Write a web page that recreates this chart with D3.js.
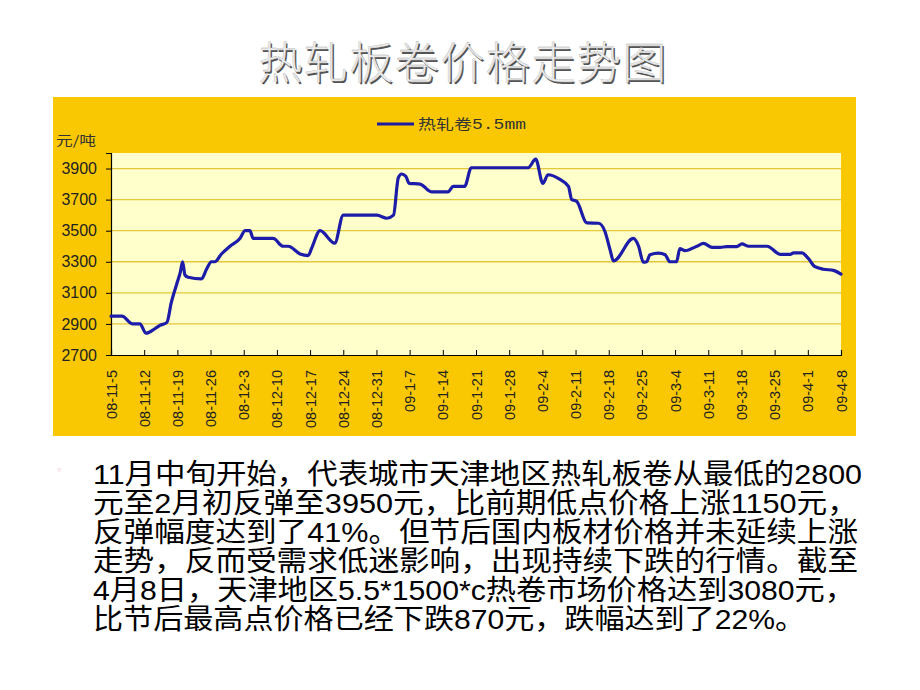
<!DOCTYPE html>
<html>
<head>
<meta charset="utf-8">
<script src="https://cdn.jsdelivr.net/npm/d3@7"></script>
<style>
  html, body { margin: 0; padding: 0; background: #ffffff; }
  svg { display: block; }
</style>
</head>
<body>
<svg id="chart" width="920" height="690"></svg>
<script>
// ---- data ----
const titleText = "热轧板卷价格走势图";
const seriesName = "热轧卷5.5mm";
const yUnit = "元/吨";
// day offsets from 08-11-5
const days = [0,2.3,4.6,6.1,7.4,9.3,10.3,11.8,12.7,13.9,14.6,15.1,15.6,16.3,19.1,20.2,21.2,21.9,23.3,25.1,27.2,28.3,29.3,30.0,34.2,36.3,37.4,39.9,41.6,42.3,44.1,47.2,49.0,56.1,58.2,59.6,60.6,61.3,62.2,62.9,65.2,67.6,71.1,72.2,74.6,76.0,88.0,89.6,91.1,92.2,94.7,96.5,97.2,98.2,100.4,102.9,104.2,105.3,106.0,110.2,111.3,112.3,113.0,113.7,115.5,116.9,117.9,119.3,120.0,121.1,123.6,125.0,126.8,128.5,129.9,132.0,133.1,134.5,138.4,141.2,143.3,144.0,145.7,147.1,148.5,150.3,152.4,154];
const prices = [2950,2950,2900,2900,2840,2870,2890,2910,3035,3160,3230,3300,3215,3200,3190,3255,3300,3300,3350,3400,3450,3500,3500,3450,3450,3400,3400,3350,3340,3385,3500,3420,3600,3600,3580,3600,3840,3865,3850,3805,3800,3750,3750,3785,3785,3905,3905,3960,3805,3860,3830,3785,3700,3690,3550,3548,3495,3375,3305,3450,3400,3297,3300,3345,3355,3345,3300,3300,3385,3372,3400,3418,3393,3393,3397,3397,3415,3400,3400,3348,3348,3357,3357,3322,3268,3252,3245,3220];
const xTickLabels = ["08-11-5","08-11-12","08-11-19","08-11-26","08-12-3","08-12-10","08-12-17","08-12-24","08-12-31","09-1-7","09-1-14","09-1-21","09-1-28","09-2-4","09-2-11","09-2-18","09-2-25","09-3-4","09-3-11","09-3-18","09-3-25","09-4-1","09-4-8"];
const yTicks = [2700,2900,3100,3300,3500,3700,3900];
const paragraph = [
  "11月中旬开始，代表城市天津地区热轧板卷从最低的2800",
  "元至2月初反弹至3950元，比前期低点价格上涨1150元，",
  "反弹幅度达到了41%。但节后国内板材价格并未延续上涨",
  "走势，反而受需求低迷影响，出现持续下跌的行情。截至",
  "4月8日，天津地区5.5*1500*c热卷市场价格达到3080元，",
  "比节后最高点价格已经下跌870元，跌幅达到了22%。"
];

// ---- drawing ----
const svg = d3.select("#chart");
const CJK = "'Liberation Sans', Arial, 'Noto Sans CJK SC', sans-serif";

// title with emboss effect
const tg = svg.append("g").attr("transform", "translate(463,79)");
tg.append("text").attr("x", 1.6).attr("y", 1.6)
  .attr("text-anchor", "middle").attr("font-family", "'Noto Sans CJK SC', sans-serif")
  .attr("font-weight", 300)
  .attr("font-size", 44).attr("letter-spacing", 1.5).attr("fill", "#555")
  .text(titleText);
tg.append("text").attr("x", 0).attr("y", 0)
  .attr("text-anchor", "middle").attr("font-family", "'Noto Sans CJK SC', sans-serif")
  .attr("font-weight", 300)
  .attr("font-size", 44).attr("letter-spacing", 1.5).attr("fill", "#ececec")
  .attr("stroke", "#a8a8a8").attr("stroke-width", 0.3)
  .text(titleText);

// chart box
svg.append("rect").attr("x", 53).attr("y", 97).attr("width", 803).attr("height", 339)
  .attr("fill", "#f9c803");

const plot = {left: 111, right: 841, top: 153, bottom: 355};
const x = d3.scaleLinear().domain([0, 154]).range([plot.left, plot.right]);
const y = d3.scaleLinear().domain([2700, 4000]).range([plot.bottom, plot.top]);

svg.append("rect").attr("x", plot.left).attr("y", plot.top)
  .attr("width", plot.right - plot.left).attr("height", plot.bottom - plot.top)
  .attr("fill", "#ffffcc");

// gridlines
svg.append("g").selectAll("line").data(yTicks.filter(v => v > 2700)).join("line")
  .attr("x1", plot.left).attr("x2", plot.right)
  .attr("y1", d => y(d)).attr("y2", d => y(d))
  .attr("stroke", "#e3c83a").attr("stroke-width", 1.3);

// y axis
const yAxis = d3.axisLeft(y).tickValues(yTicks).tickSize(5).tickPadding(9).tickFormat(d3.format("d"));
const yg = svg.append("g").attr("transform", `translate(${plot.left},0)`).call(yAxis);
yg.select(".domain").attr("stroke", "#000").attr("stroke-width", 1.2);
yg.selectAll(".tick line").attr("stroke", "#000");
yg.selectAll(".tick text").attr("font-family", "'Liberation Sans', Arial, sans-serif")
  .attr("font-size", 16).attr("fill", "#222");

// x axis (ticks inward)
const xTickVals = xTickLabels.map((d, i) => i * 7);
const xAxis = d3.axisBottom(x).tickValues(xTickVals).tickSize(-5).tickFormat("");
const xg = svg.append("g").attr("transform", `translate(0,${plot.bottom})`).call(xAxis);
xg.select(".domain").attr("stroke", "#000").attr("stroke-width", 1.2);
xg.selectAll(".tick line").attr("stroke", "#000");

// rotated x labels
svg.append("g").selectAll("text").data(xTickLabels).join("text")
  .attr("transform", (d, i) => `translate(${x(i * 7) + 0.5},370) rotate(-90)`)
  .attr("text-anchor", "end").attr("dy", "0.35em")
  .attr("font-family", "'Liberation Sans', Arial, sans-serif")
  .attr("font-size", 14.5).attr("fill", "#222")
  .text(d => d);

// unit label
svg.append("text").attr("x", 56).attr("y", 145)
  .attr("font-family", "'Noto Sans CJK SC', sans-serif").attr("font-size", 13)
  .attr("textLength", 40).attr("lengthAdjust", "spacingAndGlyphs")
  .attr("fill", "#333").text(yUnit);

// legend
svg.append("line").attr("x1", 377).attr("x2", 414).attr("y1", 124).attr("y2", 124)
  .attr("stroke", "#1c1ca0").attr("stroke-width", 3);
svg.append("text").attr("x", 418).attr("y", 129)
  .attr("font-family", "'Liberation Mono', 'Noto Sans CJK SC', monospace").attr("font-size", 14)
  .attr("textLength", 108).attr("lengthAdjust", "spacingAndGlyphs")
  .attr("fill", "#333").text(seriesName);

// price line
const pts = days.map((d, i) => [d, prices[i]]);
const line = d3.line().x(d => x(d[0])).y(d => y(d[1])).curve(d3.curveMonotoneX);
svg.append("path").attr("d", line(pts))
  .attr("fill", "none").attr("stroke", "#1c1ca8").attr("stroke-width", 3.2)
  .attr("stroke-linejoin", "round").attr("stroke-linecap", "round");

// bullet
svg.append("text").attr("x", 56).attr("y", 474)
  .attr("font-family", "'DejaVu Sans', sans-serif").attr("font-size", 11)
  .attr("fill", "#e9a8b8").text("◦");

// paragraph
const lineWidths = [769, 765, 765, 765, 762, 712];
const pg = svg.append("g");
paragraph.forEach((t, i) => {
  pg.append("text").attr("x", 93).attr("y", 484 + i * 29)
    .attr("font-family", CJK).attr("font-size", 28.5).attr("fill", "#000")
    .attr("textLength", lineWidths[i]).attr("lengthAdjust", "spacingAndGlyphs")
    .text(t);
});
</script>
</body>
</html>
